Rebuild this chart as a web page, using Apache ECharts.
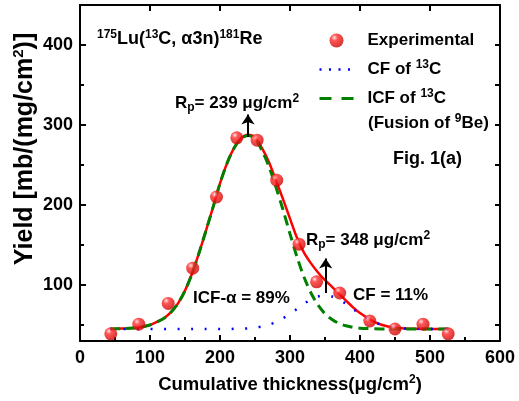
<!DOCTYPE html>
<html><head><meta charset="utf-8">
<script src="https://cdn.jsdelivr.net/npm/echarts@6/dist/echarts.min.js"></script>
<style>html,body{margin:0;padding:0;background:#fff}#c{width:519px;height:401px}</style>
</head><body><div id="c"></div>
<script>
// Experimental points
const expX = [44, 84, 126, 161, 195, 224, 253, 281, 313, 338, 371, 414, 450, 490, 526];
const expY = [39, 51, 77, 121, 210, 284, 281, 231, 151, 104, 90, 55, 45, 51, 39];
// Fit curves
const fitX   = [43, 60, 80, 100, 110, 120, 130, 140, 150, 160, 170, 180, 190, 200, 210, 220, 230, 240, 250, 260,
                270, 280, 290, 300, 310, 320, 330, 340, 350, 360, 370, 380, 390, 400, 420, 440, 460, 480, 500, 526];
const totalY = [45, 45.5, 46.5, 50, 54, 58.5, 66, 77, 93, 114, 140, 168, 197, 227, 252, 271.2, 283.4, 287.8, 284.7, 271,
                253.4, 230.7, 207.3, 182.9, 159, 140.5, 127, 115.7, 106, 97.7, 89, 80.5, 72.1, 64.9, 54, 48.1, 45.9, 45.2, 45, 45];
const icfY   = [45, 45.5, 46.5, 50, 54, 58.5, 66, 77, 93, 114, 140, 168, 197, 227, 252, 271, 283, 287, 283, 268,
                248, 222, 194, 164, 135, 110, 90, 75, 64, 57, 52, 49, 47, 46, 45.3, 45, 45, 45, 45, 45];
const cfY    = [45, 45, 45, 45, 45, 45, 45, 45, 45, 45, 45, 45, 45, 45, 45, 45.2, 45.4, 45.8, 46.7, 48.1,
                50.4, 53.7, 58.3, 63.9, 70.1, 76.5, 82, 85.7, 87, 85.7, 82, 76.5, 70.1, 63.9, 53.7, 48.1, 45.9, 45.2, 45, 45];
// Arrows marking Rp
const arrowX    = [240, 351];
const arrowFrom = [285, 90];
const arrowTo   = [313, 133];
// Axis ranges / ticks
const xMin = 0, xMax = 600, xStep = 100;
const yMin = 30, yMax = 450;
const xMajor = [100, 200, 300, 400, 500];
const xMinor = [50, 150, 250, 350, 450, 550];
const yMajor = [100, 200, 300, 400];
const yMinor = [50, 150, 250, 350];

const FONT = '"Liberation Sans", Arial, sans-serif';
const pairs = (xs, ys) => xs.map((x, i) => [x, ys[i]]);
const chart = echarts.init(document.getElementById('c'), null, {renderer: 'canvas'});

const supS = {fontSize: 12, fontWeight: 'bold', fontFamily: FONT, color: '#000', padding: [0, 0, 9, 0]};
const subS = {fontSize: 12, fontWeight: 'bold', fontFamily: FONT, color: '#000', padding: [9, 0, 0, 0]};
const baseS = {fontSize: 17, fontWeight: 'bold', fontFamily: FONT, color: '#000'};
const rich = {b: baseS, sup: supS, sub: subS};

const ball = new echarts.graphic.RadialGradient(0.35, 0.3, 0.75, [
  {offset: 0, color: '#ffe0e0'}, {offset: 0.3, color: '#ff2a2a'}, {offset: 1, color: '#c80000'}]);

const lineSt = () => ({show: true, onZero: false, lineStyle: {color: '#000', width: 2}});

function txt(x, y, text, extra) {
  return {type: 'text', x: x, y: y, z: 100, style: Object.assign({text: text, rich: rich,
    font: 'bold 17px ' + FONT, fill: '#000', verticalAlign: 'middle', align: 'left'}, extra || {})};
}

// Plot area in pixels, used only to convert tick lengths (px) into axis units
const PL = 80, PT = 5, PW = 420, PH = 336;
const pxX = PW / (xMax - xMin), pxY = PH / (yMax - yMin);

// Inward tick marks along the frame, built from the tick arrays
const seg = (a, b) => [{coord: a, symbol: 'none'}, {coord: b, symbol: 'none'}];
const tickLines = [].concat(
  xMajor.map(v => seg([v, yMin], [v, yMin + 6 / pxY])),
  xMinor.map(v => seg([v, yMin], [v, yMin + 4 / pxY])),
  xMajor.map(v => seg([v, yMax], [v, yMax - 6 / pxY])),
  yMajor.map(v => seg([xMin, v], [xMin + 6 / pxX, v])),
  yMinor.map(v => seg([xMin, v], [xMin + 4 / pxX, v])),
  yMajor.concat(yMinor).map(v => seg([xMax, v], [xMax - 5 / pxX, v]))
);
const arrowLines = arrowX.map((x, i) => [{coord: [x, arrowFrom[i]], symbol: 'none'}, {coord: [x, arrowTo[i]], symbol: 'arrow'}]);

const names = {'Experimental': 'Experimental', 'CF of 13C': 'CF of {sup|13}C', 'ICF of 13C': 'ICF of {sup|13}C'};

chart.setOption({
  animation: false,
  backgroundColor: '#fff',
  grid: {left: PL, top: PT, width: PW, height: PH},
  xAxis: [{
    type: 'value', min: xMin, max: xMax, interval: xStep, position: 'bottom',
    axisLine: lineSt(), axisTick: {show: false}, splitLine: {show: false},
    axisLabel: {fontSize: 18, fontWeight: 'bold', color: '#000', fontFamily: FONT, margin: 8},
    name: 'Cumulative thickness(μg/cm{sup|2})', nameLocation: 'middle', nameGap: 33,
    nameTextStyle: {fontSize: 18.5, fontWeight: 'bold', color: '#000', fontFamily: FONT,
      rich: {sup: {fontSize: 12, fontWeight: 'bold', fontFamily: FONT, color: '#000', padding: [0, 0, 10, 0]}}}
  }, {
    type: 'value', min: xMin, max: xMax, interval: xStep, position: 'top',
    axisLine: lineSt(), axisTick: {show: false}, splitLine: {show: false}, axisLabel: {show: false}
  }],
  yAxis: [{
    type: 'value', min: yMin, max: yMax, position: 'left',
    axisLine: lineSt(), axisTick: {show: false}, splitLine: {show: false},
    axisLabel: {customValues: yMajor, fontSize: 18, fontWeight: 'bold', color: '#000', fontFamily: FONT, margin: 7}
  }, {
    type: 'value', min: yMin, max: yMax, position: 'right',
    axisLine: lineSt(), axisTick: {show: false}, axisLabel: {show: false}, splitLine: {show: false}
  }],
  legend: {
    orient: 'vertical', left: 313, top: 27, itemWidth: 34, itemHeight: 14, itemGap: 10,
    textStyle: Object.assign({}, baseS, {padding: [0, 0, 0, 9], rich: {sup: supS}}),
    formatter: n => names[n],
    data: [
      {name: 'Experimental', icon: 'circle'},
      {name: 'CF of 13C', lineStyle: {type: [2, 7.5], width: 2.5}, itemStyle: {opacity: 0}},
      {name: 'ICF of 13C', lineStyle: {type: [12, 10], width: 3}, itemStyle: {opacity: 0}}
    ]
  },
  series: [{
    name: 'Total', type: 'line', data: pairs(fitX, totalY), smooth: 0.3, symbol: 'none',
    lineStyle: {color: '#ff0000', width: 2.5}, itemStyle: {color: '#ff0000'}, z: 2,
    markLine: {
      silent: true, symbol: ['none', 'arrow'], symbolSize: 10, animation: false,
      lineStyle: {color: '#000', width: 2, type: 'solid'}, label: {show: false},
      data: arrowLines.concat(tickLines)
    }
  }, {
    name: 'ICF of 13C', type: 'line', data: pairs(fitX, icfY), smooth: 0.3, symbol: 'none',
    lineStyle: {color: '#008000', width: 3, type: [10, 6]}, itemStyle: {color: '#008000'}, z: 3
  }, {
    name: 'CF of 13C', type: 'line', data: pairs(fitX, cfY), smooth: 0.3, symbol: 'none',
    lineStyle: {color: '#0000ff', width: 2.5, type: [2, 11.5]}, itemStyle: {color: '#0000ff'}, z: 4
  }, {
    name: 'Experimental', type: 'scatter', data: pairs(expX, expY), symbol: 'circle', symbolSize: 13,
    itemStyle: {color: ball, borderWidth: 0}, z: 5
  }],
  graphic: [
    txt(97, 39, '{sup|175}Lu({sup|13}C, α3n){sup|181}Re', {font: 'bold 18px ' + FONT}),
    txt(368, 123, '(Fusion of {sup|9}Be)'),
    txt(393, 159, 'Fig. 1(a)', {font: 'bold 18px ' + FONT}),
    txt(175, 103, 'R{sub|p}= 239 μg/cm{sup|2}'),
    txt(306, 240, 'R{sub|p}= 348 μg/cm{sup|2}'),
    txt(193, 298, 'ICF-α = 89%'),
    txt(353, 295, 'CF = 11%'),
    {type: 'text', x: 25, y: 149, rotation: Math.PI / 2, z: 100,
     style: {text: 'Yield [mb/(mg/cm{sup|2})]', rich: {sup: {fontSize: 15, fontWeight: 'bold', fontFamily: FONT, color: '#000', padding: [0, 0, 12, 0]}},
       font: 'bold 25px ' + FONT, fill: '#000', align: 'center', verticalAlign: 'middle'}}
  ]
});
</script></body></html>
